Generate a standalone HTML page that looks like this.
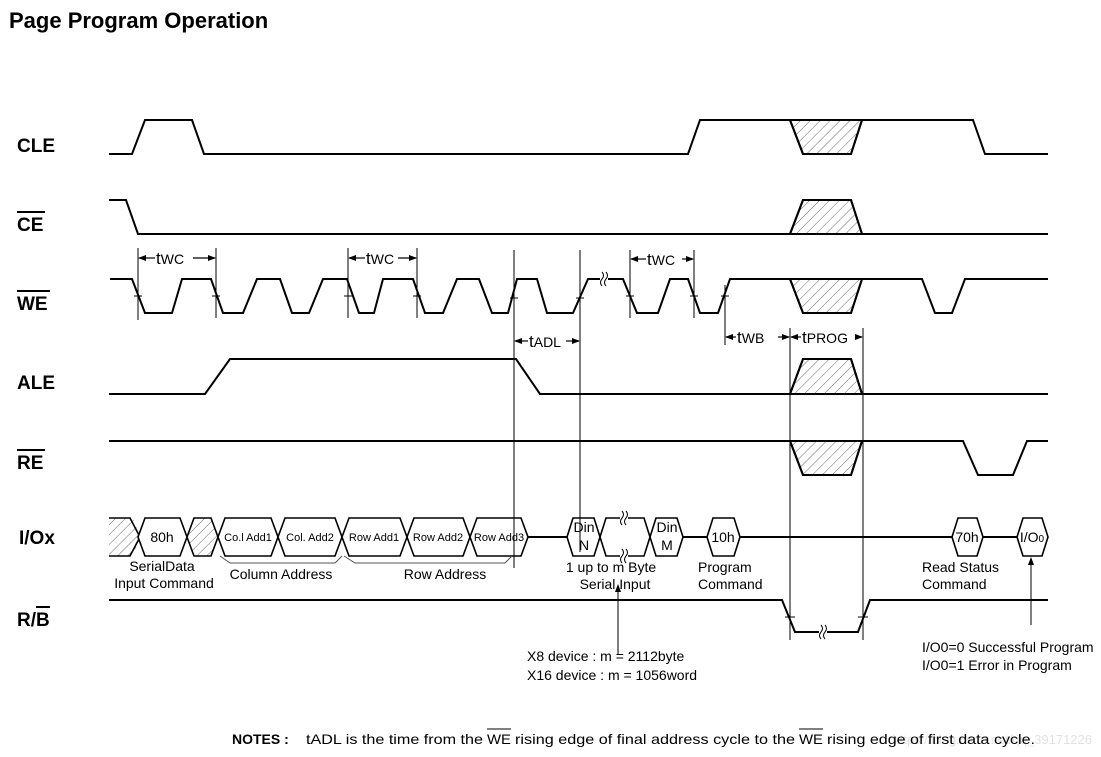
<!DOCTYPE html>
<html><head><meta charset="utf-8"><style>
html,body{margin:0;padding:0;background:#fff}
svg{display:block}
text{font-family:"Liberation Sans",sans-serif;fill:#000}
</style></head><body>
<svg width="1101" height="757" viewBox="0 0 1101 757" xmlns="http://www.w3.org/2000/svg">
<defs>
<pattern id="h" width="7" height="7" patternUnits="userSpaceOnUse" patternTransform="rotate(45)">
<line x1="0" y1="0" x2="0" y2="7" stroke="#444" stroke-width="0.8"/>
</pattern>
<marker id="a" markerWidth="8" markerHeight="8" refX="7" refY="4" orient="auto" markerUnits="userSpaceOnUse"><path d="M0,1 L8,4 L0,7z" fill="#000"/></marker>
<marker id="b" markerWidth="8" markerHeight="8" refX="1" refY="4" orient="auto" markerUnits="userSpaceOnUse"><path d="M8,1 L0,4 L8,7z" fill="#000"/></marker>
<path id="brk" d="M-2,-7 q3,3.5 0,7 q-3,3.5 0,7 M2,-7 q3,3.5 0,7 q-3,3.5 0,7" fill="none" stroke="#000" stroke-width="1"/>
</defs>
<text x="9" y="28" font-size="22" font-weight="bold">Page Program Operation</text>
<g font-size="19" font-weight="bold">
<text x="17" y="152">CLE</text>
<text x="17" y="231">CE</text><line x1="17" y1="212" x2="45" y2="212" stroke="#000" stroke-width="2"/>
<text x="17" y="310">WE</text><line x1="17" y1="291" x2="50" y2="291" stroke="#000" stroke-width="2"/>
<text x="17" y="389">ALE</text>
<text x="17" y="469">RE</text><line x1="17" y1="450" x2="45" y2="450" stroke="#000" stroke-width="2"/>
<text x="19" y="544">I/Ox</text>
<text x="17" y="626">R/B</text><line x1="36" y1="607" x2="50" y2="607" stroke="#000" stroke-width="2"/>
</g>
<g fill="none" stroke="#000" stroke-width="2">
<polyline points="109,154 132,154 145,120 192,120 204,154 688,154 700,120 973,120 985,154 1048,154"/>
<polyline points="109,200 126,200 138,234 1048,234"/>
<polyline points="110,279 132,279 145,313 172,313 182,279 211,279 223,313 243,313 257,279 280,279 292,313 309,313 323,279 347,279 359,313 374,313 383,279 413,279 425,313 443,313 457,279 479,279 492,313 508,313 517,279 537,279 547,313 573,313 588,279 623,279 637,313 658,313 670,279 688,279 700,313 718,313 730,279 922,279 935,313 952,313 965,279 1048,279"/>
<polyline points="109,394 205,394 230,359 516,359 540,394 1048,394"/>
<polyline points="109,441 963,441 978,475 1013,475 1027,441 1048,441"/>
<polyline points="109,600 782,600 795,632 858,632 870,600 1048,600"/>
</g>
<g fill="url(#h)" stroke="#000" stroke-width="2">
<polygon points="790,120 862,120 851,154 803,154" fill="#fff"/>
<polygon points="790,120 862,120 851,154 803,154"/>
<polygon points="803,200 851,200 862,234 790,234" fill="#fff"/>
<polygon points="803,200 851,200 862,234 790,234"/>
<polygon points="790,279 862,279 851,313 803,313" fill="#fff"/>
<polygon points="790,279 862,279 851,313 803,313"/>
<polygon points="803,359 851,359 862,394 790,394" fill="#fff"/>
<polygon points="803,359 851,359 862,394 790,394"/>
<polygon points="790,441 862,441 851,475 803,475" fill="#fff"/>
<polygon points="790,441 862,441 851,475 803,475"/>
</g>
<g stroke="#000" stroke-width="1.6">
<line x1="528" y1="537" x2="567" y2="537" stroke-width="2"/>
<line x1="683" y1="537" x2="707" y2="537" stroke-width="2"/>
<line x1="740" y1="537" x2="952" y2="537" stroke-width="2"/>
<line x1="983" y1="537" x2="1017" y2="537" stroke-width="2"/>
<polygon points="109,518 133,518 140,537 133,556 109,556" fill="url(#h)" stroke="none"/>
<polyline points="109,518 130,518 140,537 130,556 109,556" fill="none"/>
<polygon points="138,537 145,518 180,518 187,537 180,556 145,556" fill="#fff"/>
<polygon points="187,537 194,518 211,518 218,537 211,556 194,556" fill="url(#h)"/>
<polygon points="218,537 225,518 271,518 278,537 271,556 225,556" fill="#fff"/>
<polygon points="278,537 285,518 335,518 342,537 335,556 285,556" fill="#fff"/>
<polygon points="342,537 349,518 400,518 407,537 400,556 349,556" fill="#fff"/>
<polygon points="407,537 414,518 463,518 470,537 463,556 414,556" fill="#fff"/>
<polygon points="470,537 477,518 521,518 528,537 521,556 477,556" fill="#fff"/>
<polygon points="567,537 573,518 594,518 600,537 594,556 573,556" fill="#fff"/>
<polyline points="600,537 606,518 644,518 650,537 644,556 606,556 600,537" fill="none"/>
<polygon points="650,537 656,518 677,518 683,537 677,556 656,556" fill="#fff"/>
<polygon points="707,537 713,518 734,518 740,537 734,556 713,556" fill="#fff"/>
<polygon points="952,537 958,518 977,518 983,537 977,556 958,556" fill="#fff"/>
<polygon points="1017,537 1023,518 1042,518 1048,537 1042,556 1023,556" fill="#fff"/>
</g>
<g font-size="11">
<text x="248" y="541" text-anchor="middle">Co.l Add1</text>
<text x="310" y="541" text-anchor="middle">Col. Add2</text>
<text x="374" y="541" text-anchor="middle">Row Add1</text>
<text x="438" y="541" text-anchor="middle">Row Add2</text>
<text x="499" y="541" text-anchor="middle">Row Add3</text>
</g>
<g font-size="14" text-anchor="middle">
<text x="162" y="542">80h</text>
<text x="584" y="532">Din</text><text x="584" y="550">N</text>
<text x="667" y="532">Din</text><text x="667" y="550">M</text>
<text x="723" y="542">10h</text>
<text x="967" y="542">70h</text>
<text x="1032" y="542">I/O<tspan font-size="10">0</tspan></text>
</g>
<rect x="620" y="512" width="8" height="12" fill="#fff"/>
<rect x="620" y="550" width="8" height="12" fill="#fff"/>
<rect x="600" y="272" width="8" height="14" fill="#fff"/>
<rect x="819" y="626" width="8" height="14" fill="#fff"/>
<use href="#brk" x="624" y="518"/>
<use href="#brk" x="624" y="556"/>
<use href="#brk" x="604" y="279"/>
<use href="#brk" x="823" y="632"/>
<g fill="none" stroke="#555" stroke-width="1">
<polyline points="220,556 230,563 335,563 342,556"/>
<polyline points="344,556 355,563 505,563 512,556"/>
</g>
<g font-size="14" text-anchor="middle">
<text x="162" y="571">SerialData</text>
<text x="164" y="588">Input Command</text>
<text x="281" y="579">Column Address</text>
<text x="445" y="579">Row Address</text>
<text x="611" y="572">1 up to m Byte</text>
<text x="615" y="589">Serial Input</text>
</g>
<g font-size="14">
<text x="698" y="572">Program</text>
<text x="698" y="589">Command</text>
<text x="922" y="572">Read Status</text>
<text x="922" y="589">Command</text>
<text x="527" y="661">X8  device : m = 2112byte</text>
<text x="527" y="680">X16 device : m = 1056word</text>
<text x="922" y="652">I/O0=0 Successful Program</text>
<text x="922" y="670">I/O0=1 Error in Program</text>
</g>
<g stroke="#000" stroke-width="1">
<line x1="138" y1="248" x2="138" y2="320"/>
<line x1="216" y1="248" x2="216" y2="318"/>
<line x1="348" y1="248" x2="348" y2="318"/>
<line x1="417" y1="248" x2="417" y2="318"/>
<line x1="514" y1="250" x2="514" y2="568"/>
<line x1="580" y1="250" x2="580" y2="552"/>
<line x1="630" y1="250" x2="630" y2="318"/>
<line x1="694" y1="250" x2="694" y2="318"/>
<line x1="725" y1="285" x2="725" y2="345"/>
<line x1="790" y1="328" x2="790" y2="640"/>
<line x1="863" y1="328" x2="863" y2="640"/>
<line x1="618" y1="655" x2="618" y2="585" marker-end="url(#a)"/>
<line x1="1031" y1="625" x2="1031" y2="558" marker-end="url(#a)"/>
</g>
<g stroke="#000" stroke-width="1">
<line x1="134" y1="296" x2="142" y2="296"/><line x1="212" y1="296" x2="220" y2="296"/>
<line x1="344" y1="296" x2="352" y2="296"/><line x1="413" y1="296" x2="421" y2="296"/>
<line x1="510" y1="298" x2="518" y2="298"/><line x1="576" y1="298" x2="584" y2="298"/>
<line x1="626" y1="296" x2="634" y2="296"/><line x1="690" y1="296" x2="698" y2="296"/>
<line x1="721" y1="296" x2="729" y2="296"/>
<line x1="785" y1="617" x2="795" y2="617"/><line x1="858" y1="617" x2="868" y2="617"/>
</g>
<g stroke="#000" stroke-width="1.2">
<line x1="139" y1="258" x2="155" y2="258" marker-start="url(#b)"/>
<line x1="193" y1="258" x2="215" y2="258" marker-end="url(#a)"/>
<line x1="349" y1="258" x2="365" y2="258" marker-start="url(#b)"/>
<line x1="398" y1="258" x2="416" y2="258" marker-end="url(#a)"/>
<line x1="631" y1="259" x2="646" y2="259" marker-start="url(#b)"/>
<line x1="682" y1="259" x2="693" y2="259" marker-end="url(#a)"/>
<line x1="515" y1="341" x2="528" y2="341" marker-start="url(#b)"/>
<line x1="566" y1="341" x2="579" y2="341" marker-end="url(#a)"/>
<line x1="726" y1="337" x2="736" y2="337" marker-start="url(#b)"/>
<line x1="778" y1="337" x2="789" y2="337" marker-end="url(#a)"/>
<line x1="791" y1="337" x2="801" y2="337" marker-start="url(#b)"/>
<line x1="856" y1="337" x2="862" y2="337" marker-end="url(#a)"/>
</g>
<g font-size="17">
<text x="156" y="264">t<tspan font-size="14">WC</tspan></text>
<text x="366" y="264">t<tspan font-size="14">WC</tspan></text>
<text x="647" y="265">t<tspan font-size="14">WC</tspan></text>
<text x="529" y="347">t<tspan font-size="14">ADL</tspan></text>
<text x="737" y="343">t<tspan font-size="14">WB</tspan></text>
<text x="802" y="343">t<tspan font-size="14">PROG</tspan></text>
</g>
<text x="1092" y="744" font-size="13" text-anchor="end" style="fill:#e2e2e2">https://blog.csdn.net/qq_39171226</text>
<g font-size="14">
<text x="232" y="744" font-weight="bold">NOTES :</text>
<text x="306" y="744" textLength="177" lengthAdjust="spacingAndGlyphs">tADL is the time from the</text>
<text x="487" y="744" textLength="24" lengthAdjust="spacingAndGlyphs">WE</text>
<text x="515" y="744" textLength="280" lengthAdjust="spacingAndGlyphs">rising edge of final address cycle to the</text>
<text x="799" y="744" textLength="24" lengthAdjust="spacingAndGlyphs">WE</text>
<text x="827" y="744" textLength="208" lengthAdjust="spacingAndGlyphs">rising edge of first data cycle.</text>
</g>
<line x1="487" y1="729" x2="511" y2="729" stroke="#000" stroke-width="1"/>
<line x1="799" y1="729" x2="823" y2="729" stroke="#000" stroke-width="1"/>
</svg>
</body></html>
